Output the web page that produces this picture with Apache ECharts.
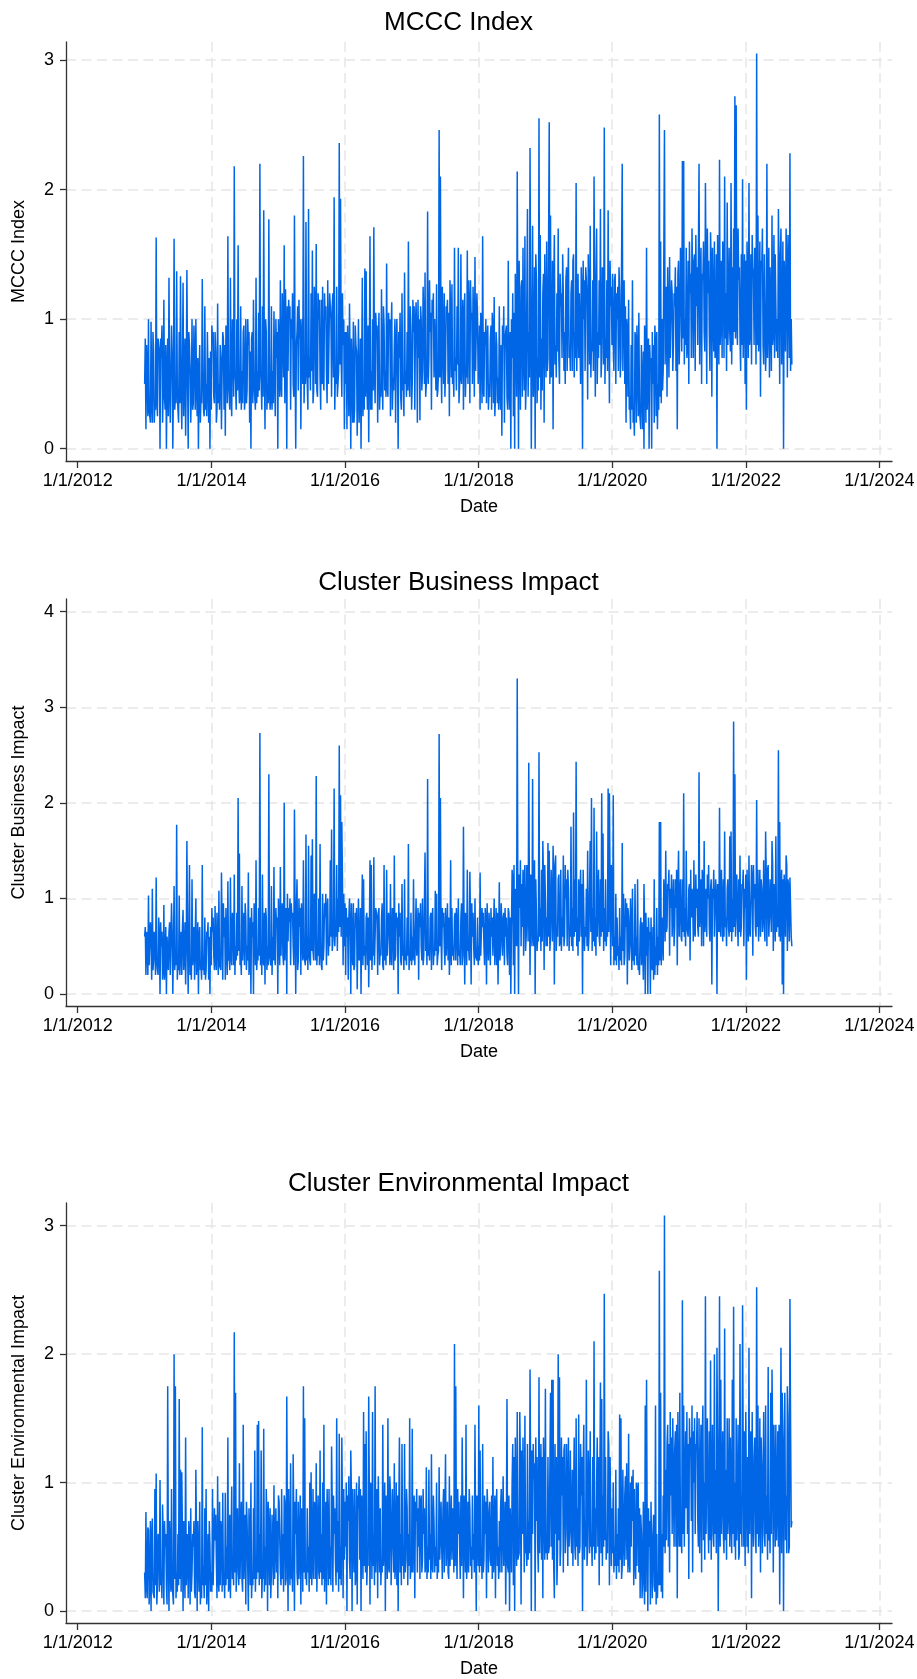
<!DOCTYPE html>
<html>
<head>
<meta charset="utf-8">
<script src="https://cdn.jsdelivr.net/npm/echarts@6/dist/echarts.min.js"></script>
<style>
html,body{margin:0;padding:0;background:#fff;}
#chart{width:917px;height:1679px;}
</style>
</head>
<body>
<div id="chart"></div>
<script>
// Observations read off the picture: one at the start of each week from 1/1/2013,
// and one in the middle of each week (3.5 days later).
const startDate = Date.UTC(2013, 0, 1);
const stepDays = 7;
const midOffsetDays = 3.5;

const mcccIndex = [
// 2013
0.5,0.15,0.62,1.0,0.3,0.98,0.2,0.75,0.35,1.63,0.25,0.8,0.0,0.7,0.2,1.15,0.3,0.0,0.85,1.32,0.2,0.95,0.0,1.62,0.4,1.37,0.3,0.9,1.33,0.15,1.28,0.5,0.1,1.38,0.0,0.8,0.2,1.0,0.35,0.7,1.0,0.25,0.0,0.8,0.4,1.31,0.3,1.1,0.5,0.9,0.2,0.0,
// 2014
0.3,0.85,0.4,0.9,0.2,1.12,0.5,0.8,0.15,0.9,0.3,0.1,0.85,1.64,0.4,1.32,0.25,0.95,2.18,0.5,1.0,1.57,0.35,1.1,0.6,0.9,0.3,1.0,0.45,0.8,0.2,0.0,0.9,1.15,0.4,1.32,0.6,1.05,2.2,0.5,1.1,1.84,0.15,0.9,0.5,1.77,0.3,1.1,0.6,1.06,0.25,0.7,
// 2015
0.0,0.8,1.3,0.4,0.9,1.57,1.23,0.0,0.6,1.0,0.3,0.85,0.5,1.8,0.0,0.9,0.45,0.85,0.15,1.0,2.26,0.6,1.75,0.5,1.85,0.7,1.2,1.53,0.45,1.1,1.58,0.4,1.0,0.55,1.15,1.25,0.45,1.0,0.6,1.3,0.5,1.1,0.4,1.2,1.94,0.6,1.25,0.5,2.36,1.93,0.4,0.8,0.15,
// 2016
0.5,0.15,0.7,1.12,0.0,0.6,0.98,0.3,0.8,0.1,1.0,0.4,0.0,1.32,0.5,1.39,1.37,0.3,0.05,1.64,0.6,1.0,1.71,0.35,0.9,0.2,1.05,0.5,1.23,0.3,0.95,0.6,1.43,0.4,0.9,0.25,1.13,0.55,0.8,0.2,1.0,0.0,0.7,0.4,1.2,0.5,1.36,0.6,0.9,1.6,0.4,0.9,
// 2017
0.5,0.9,0.3,1.13,0.2,0.7,0.22,1.0,0.6,0.95,1.36,0.5,1.83,0.7,0.9,0.3,1.05,0.55,1.0,1.27,0.45,2.46,2.1,0.35,0.9,1.2,0.6,1.05,0.5,0.25,1.0,1.27,0.6,1.55,0.7,1.1,1.55,0.5,1.5,0.8,0.3,1.2,0.6,1.53,1.3,0.35,1.0,0.5,0.9,1.48,0.6,1.0,
// 2018
0.7,0.3,0.9,1.64,0.4,0.8,0.35,0.95,0.5,0.85,0.3,0.9,1.17,0.4,0.8,0.55,1.1,0.3,0.1,0.8,0.2,0.9,0.4,1.45,0.3,0.0,0.7,0.25,0.0,1.0,2.14,0.0,0.8,1.25,0.4,0.7,1.64,0.5,1.85,0.9,2.32,0.0,1.72,0.6,0.0,1.3,0.7,2.55,1.65,0.85,1.2,0.2,1.0,
// 2019
1.6,0.7,2.52,1.8,0.6,0.15,1.65,0.8,1.2,1.7,0.5,1.1,0.7,1.18,0.9,1.3,0.6,1.55,0.8,1.2,0.6,1.5,0.9,2.05,1.0,0.7,1.2,1.4,0.0,1.0,0.6,1.3,0.38,1.1,1.72,0.8,1.3,2.1,0.4,1.7,0.9,1.3,1.85,0.7,1.2,2.48,0.85,1.3,1.84,0.35,1.1,0.8,
// 2020
0.8,1.3,0.5,1.0,0.6,1.2,0.7,2.2,1.25,0.5,0.2,0.9,1.15,0.4,0.8,1.3,0.3,0.9,0.2,0.7,1.05,0.3,0.8,0.15,0.0,0.7,1.55,0.3,0.0,0.6,0.0,0.5,0.2,0.8,0.9,0.5,2.58,1.6,1.0,0.6,2.46,1.1,0.4,1.0,1.48,0.7,1.2,0.8,1.1,0.6,0.15,1.45,
// 2021
0.9,1.4,2.22,2.22,1.0,1.55,0.8,0.5,1.2,0.7,1.3,1.45,0.6,1.1,0.8,2.2,1.2,0.5,1.3,0.9,2.05,0.5,1.2,0.9,1.67,0.4,1.1,1.6,0.8,0.0,1.3,2.23,1.0,0.7,1.5,2.1,1.2,1.9,1.0,0.9,2.05,1.4,1.7,2.72,2.65,0.8,1.3,0.85,1.5,2.08,1.1,0.5,
// 2022
0.3,1.2,2.05,0.9,0.65,1.4,0.8,1.3,3.05,1.8,0.9,0.4,1.4,0.8,1.5,0.6,2.2,1.0,0.55,1.4,1.8,0.9,0.7,1.5,1.0,1.85,0.5,1.7,1.0,0.0,1.3,1.7,0.55,1.2,2.28,1.0
];
const mcccIndexMid = [
// 2013
0.85,0.8,0.25,0.3,0.2,0.35,0.9,0.2,0.3,0.4,0.85,0.75,0.85,0.95,0.45,0.4,0.8,0.6,0.25,0.5,0.6,0.7,0.5,0.3,0.35,0.45,0.2,0.35,0.5,0.6,0.25,0.85,0.55,0.6,0.9,0.6,0.45,0.3,0.95,0.3,0.5,0.7,0.55,0.2,0.35,0.6,0.25,0.3,0.25,0.55,0.7,0.75,
// 2014
0.95,0.9,0.35,0.75,0.3,0.35,0.3,0.7,0.6,0.85,0.8,0.95,0.35,0.5,0.3,0.45,1.0,0.4,0.6,0.3,0.45,0.55,0.4,0.3,0.35,0.95,0.4,0.35,1.0,0.9,0.75,0.85,0.35,0.5,0.3,0.35,0.4,0.45,0.6,0.3,0.4,0.7,1.0,0.3,0.35,0.45,0.4,0.3,0.35,0.6,1.0,0.9,
// 2015
1.0,0.4,0.5,1.2,0.55,0.35,0.9,1.1,1.15,1.1,1.0,1.2,0.4,0.7,0.8,1.1,1.15,1.0,0.9,0.5,0.35,0.5,0.6,0.3,0.55,0.45,0.6,0.35,1.25,0.5,0.45,1.2,1.15,0.3,0.5,0.55,1.2,1.1,0.35,0.5,1.2,1.0,1.1,0.55,0.3,0.5,0.4,0.6,0.65,0.7,1.2,1.0,0.9,
// 2016
0.9,0.95,0.25,0.6,0.85,0.2,0.2,0.95,0.75,0.5,0.2,0.85,0.6,0.25,0.3,0.4,0.55,0.95,0.7,0.3,0.3,0.45,0.6,1.05,0.95,0.8,0.3,0.4,0.55,1.1,0.45,0.4,0.5,1.05,1.0,0.9,0.3,0.45,1.0,0.8,0.6,0.9,1.05,0.3,0.45,0.25,0.5,0.4,0.45,0.55,1.1,0.3,
// 2017
1.15,1.1,0.95,0.9,1.15,1.0,1.1,0.45,1.25,0.5,0.4,0.6,0.5,1.3,1.05,1.15,1.2,1.0,0.45,0.4,0.6,0.55,0.7,1.25,0.5,0.4,1.1,1.15,1.05,1.3,0.55,0.5,0.4,0.6,0.45,0.65,0.35,0.55,0.5,1.15,1.0,0.4,0.55,0.5,1.1,1.3,1.05,1.25,0.4,0.6,1.2,0.5,
// 2018
0.95,1.05,0.35,0.45,0.9,1.0,0.85,0.3,0.4,0.95,1.05,0.35,0.25,0.9,0.35,0.3,0.45,0.8,0.95,1.1,0.85,0.95,0.3,0.45,0.9,1.0,1.2,1.05,1.35,0.4,0.9,1.45,0.3,1.3,1.55,0.45,0.3,0.5,0.4,0.55,1.1,0.9,0.4,1.4,1.5,0.35,0.45,0.55,0.3,0.45,1.35,1.5,0.55,
// 2019
0.6,0.7,0.5,0.55,1.45,1.25,0.65,0.55,0.75,0.7,1.35,1.2,1.5,0.6,0.5,1.4,1.25,0.7,0.6,1.3,1.45,0.55,0.7,0.6,1.35,1.2,0.5,1.2,1.45,1.3,1.4,1.15,1.5,0.65,0.55,0.75,0.6,1.1,1.3,0.5,0.7,0.8,0.55,1.4,0.65,0.5,0.7,0.6,1.0,1.45,1.25,1.35,
// 2020
0.6,1.35,1.2,1.25,1.4,0.55,0.7,0.6,1.3,1.1,1.0,0.4,0.3,0.15,0.3,0.2,0.1,0.85,0.95,0.25,0.3,0.15,0.8,0.75,0.95,0.2,0.3,0.85,0.8,0.7,0.9,0.8,0.95,0.25,0.15,0.3,0.4,0.35,0.45,0.6,0.65,1.25,1.4,0.55,0.7,1.3,0.6,1.2,1.4,1.25,1.35,0.65,
// 2021
1.55,0.75,0.85,0.65,0.8,0.7,1.45,1.6,1.35,1.7,0.7,1.5,1.65,1.4,0.8,0.65,1.55,1.35,1.6,0.75,1.3,1.7,1.45,0.6,1.4,1.55,0.75,0.7,1.5,1.65,0.65,0.8,1.45,1.6,0.7,0.85,0.6,0.8,1.55,0.75,0.65,0.8,0.9,0.85,1.0,1.7,1.4,0.6,0.8,0.7,1.5,1.45,
// 2022
1.6,0.7,0.8,1.5,1.65,1.35,1.55,0.65,0.8,0.75,1.6,1.45,1.7,0.65,1.5,0.8,0.7,1.55,1.4,0.6,0.8,1.65,1.5,0.75,0.7,1.3,1.5,0.65,1.6,1.45,0.75,1.4,1.65,0.7,0.6,0.65
];

const businessImpact = [
// 2013
0.6,0.2,0.55,1.03,0.3,0.6,1.1,0.35,0.5,1.22,0.25,0.8,0.0,0.5,0.15,0.93,0.3,0.0,0.6,0.65,0.2,0.95,0.0,1.13,0.4,1.77,0.3,1.03,0.5,0.2,0.88,0.4,0.1,1.6,0.0,1.35,0.3,1.2,0.45,0.15,1.0,0.35,0.0,0.7,0.3,1.35,0.4,0.8,0.25,0.6,0.15,0.0,
// 2014
0.3,0.65,0.4,0.92,0.25,0.55,1.08,0.3,1.27,0.15,0.6,0.15,0.5,1.18,0.4,1.22,0.3,0.75,1.25,0.5,0.85,2.05,1.47,0.4,1.13,0.6,0.3,0.8,0.5,1.27,0.35,0.0,0.6,0.0,0.8,1.4,0.4,0.9,2.73,0.5,1.25,0.3,0.1,0.8,0.5,2.3,0.4,1.13,0.6,1.33,0.3,0.7,
// 2015
0.0,0.6,1.33,0.8,0.4,2.0,0.85,0.0,0.55,0.75,0.3,0.8,0.5,1.93,0.0,1.2,0.35,0.7,0.2,0.6,1.4,0.4,1.67,0.6,1.55,0.4,1.45,1.62,0.35,0.9,2.28,0.5,1.0,1.57,0.3,1.05,0.5,0.8,0.3,1.0,0.6,1.4,1.72,0.45,2.15,0.7,1.35,1.0,2.6,2.08,1.8,0.3,0.5,
// 2016
0.2,0.6,0.15,1.0,0.0,0.5,0.95,0.3,0.7,0.05,1.0,0.4,0.0,1.25,1.2,0.5,0.8,0.3,0.07,1.4,1.35,0.5,1.43,0.3,0.85,0.2,0.9,0.45,0.8,0.3,1.35,0.5,1.3,0.4,0.75,1.15,0.3,0.8,1.45,0.4,0.7,0.0,0.6,0.35,1.15,0.5,1.2,0.45,0.8,1.57,0.4,0.85,
// 2017
0.6,1.2,0.3,1.0,0.5,0.15,0.7,0.5,1.0,0.4,1.48,0.6,2.25,0.5,0.8,0.25,0.9,0.45,1.08,1.05,0.4,2.72,2.05,0.25,0.7,0.5,0.9,0.6,0.35,0.2,1.4,0.9,0.5,0.8,0.35,0.7,1.0,0.45,0.8,0.3,1.75,0.1,0.7,1.3,0.5,1.28,0.1,0.6,0.5,1.0,0.4,0.8,
// 2018
0.5,1.27,0.4,0.7,0.5,0.9,0.1,0.6,0.85,0.3,0.6,0.4,1.0,0.5,0.3,0.1,1.17,0.5,0.7,0.8,0.3,0.6,0.4,0.9,0.2,0.0,1.3,0.3,0.0,0.6,3.3,0.0,0.9,0.5,0.7,0.4,1.35,0.6,0.9,2.42,0.2,1.0,2.25,0.5,0.0,1.2,0.6,2.53,0.9,1.3,1.6,0.25,1.0,
// 2019
0.8,1.58,1.5,0.6,1.0,1.55,0.1,1.45,0.7,1.2,0.5,1.3,0.8,1.45,0.6,1.0,0.5,1.1,0.7,1.75,0.9,1.9,1.2,2.43,0.8,1.2,1.0,0.6,0.0,1.3,0.7,1.1,1.5,0.6,1.6,2.05,0.9,1.95,0.8,1.7,1.0,0.6,1.2,2.1,1.68,0.9,1.2,0.7,2.15,2.1,0.3,1.0,
// 2020
2.08,0.6,1.05,0.8,0.5,0.9,0.6,1.58,1.05,0.4,0.7,0.1,0.8,0.5,0.7,1.1,0.4,1.15,0.6,1.2,0.3,0.7,0.3,0.5,1.15,0.0,0.4,0.0,0.6,0.0,0.3,0.7,1.2,0.5,0.9,0.6,1.8,1.8,0.8,0.35,1.0,1.5,0.7,1.1,0.4,0.9,0.6,1.2,0.7,0.9,0.3,1.5,
// 2021
1.0,0.6,1.2,2.1,0.9,1.5,0.7,1.1,0.35,0.8,1.0,1.4,0.6,0.9,0.7,2.32,0.9,0.5,1.2,1.6,0.8,0.6,1.0,0.7,1.1,0.1,1.0,0.6,1.2,0.0,0.9,1.95,0.6,0.9,1.2,1.7,0.8,1.1,0.7,1.65,1.7,1.0,2.85,2.3,0.9,0.8,1.2,1.45,0.7,1.1,0.5,0.9,
// 2022
0.15,0.8,1.45,0.6,1.35,0.4,1.0,0.7,2.03,1.3,0.9,0.6,1.1,0.8,0.7,1.7,0.5,1.35,0.8,0.9,1.6,0.45,1.0,1.65,0.8,2.55,1.8,0.9,0.1,0.0,1.0,1.45,0.45,1.1,1.22,0.6
];
const businessImpactMid = [
// 2013
0.7,0.65,0.2,0.3,0.75,0.15,0.25,0.65,0.2,0.35,0.2,0.6,0.75,0.65,0.25,0.15,0.7,0.6,0.25,0.75,0.2,0.6,0.5,0.25,0.3,0.15,0.25,0.2,0.65,0.7,0.25,0.75,0.5,0.55,0.6,0.2,0.15,0.3,0.7,0.6,0.2,0.75,0.6,0.25,0.15,0.25,0.2,0.15,0.65,0.75,0.6,0.7,
// 2014
0.9,0.8,0.25,0.35,0.85,0.2,0.3,0.25,0.7,0.95,0.8,0.9,0.2,0.35,0.25,0.4,0.85,0.3,0.2,0.35,0.4,0.45,0.3,0.2,0.35,0.85,0.95,0.25,0.35,0.2,0.8,0.9,0.75,0.95,0.3,0.25,0.35,0.4,0.3,0.2,0.35,0.85,0.9,0.25,0.3,0.4,0.3,0.2,0.35,0.4,0.9,0.8,
// 2015
1.0,0.3,0.4,0.95,0.3,0.35,0.9,1.05,0.9,1.0,0.95,0.85,0.3,0.8,0.9,0.25,1.0,0.9,0.95,0.35,0.4,0.3,0.35,0.25,0.4,0.3,0.45,0.45,1.05,0.35,0.3,0.4,0.3,0.45,0.25,0.35,0.95,1.05,0.9,0.4,0.5,0.6,0.45,0.65,0.5,0.6,0.45,0.65,0.7,0.6,1.2,1.05,0.95,
// 2016
0.9,0.8,0.8,0.7,0.95,0.3,0.25,0.85,0.9,0.6,0.35,0.9,0.7,0.3,0.4,0.25,0.85,0.8,0.6,0.35,0.25,0.4,0.3,0.9,0.8,0.85,0.3,0.4,0.95,0.25,0.35,0.3,0.4,0.85,0.3,0.4,0.9,0.25,0.35,0.85,0.8,0.95,0.85,0.3,0.4,0.25,0.35,0.3,0.4,0.25,0.35,0.3,
// 2017
0.35,0.45,0.3,0.4,0.9,0.85,0.95,0.35,0.3,0.4,0.45,0.3,0.4,0.35,0.85,0.8,0.3,0.4,0.45,0.3,0.45,0.5,0.6,0.9,0.85,0.3,0.4,0.95,0.8,0.5,0.3,0.4,0.35,0.85,0.9,0.3,0.4,0.3,0.95,0.4,0.7,0.85,0.3,0.45,0.35,0.8,0.95,0.85,0.3,0.4,0.35,0.3,
// 2018
0.35,0.4,0.9,0.85,0.3,0.8,0.95,0.35,0.85,0.9,0.8,0.4,0.3,0.9,0.85,0.6,0.35,0.95,0.4,0.85,0.9,0.8,0.3,0.85,0.8,0.7,1.2,1.35,1.1,0.5,0.9,1.25,1.4,1.15,1.3,1.2,0.45,1.35,0.55,1.1,1.25,0.5,0.6,1.4,1.2,0.45,0.55,0.6,0.45,0.55,1.2,1.35,0.5,
// 2019
0.5,0.6,0.45,1.3,0.55,1.2,1.35,0.45,0.6,1.25,0.55,0.45,0.6,0.5,1.35,1.2,1.3,0.45,0.6,0.5,0.45,0.6,0.65,0.5,0.4,0.55,1.3,1.15,1.3,0.45,0.6,0.5,0.45,0.6,0.65,0.45,0.55,0.5,0.4,0.6,1.3,0.5,0.6,0.65,0.45,0.55,0.5,0.6,0.65,1.15,1.35,0.5,
// 2020
0.3,0.35,0.3,0.4,0.25,0.35,0.3,0.45,0.3,1.0,0.95,0.9,0.35,1.0,0.25,0.35,0.3,0.4,0.3,0.25,0.2,0.8,0.75,0.15,0.7,0.85,0.7,0.8,0.65,0.8,0.25,0.15,0.2,0.3,0.2,0.3,0.35,0.3,0.8,1.2,0.55,0.65,1.15,1.3,1.1,1.25,0.6,0.5,1.2,1.3,1.1,0.6,
// 2021
1.2,0.55,0.65,0.6,0.5,0.7,0.6,1.15,1.3,1.1,0.55,0.65,1.25,1.1,0.6,0.7,1.2,1.3,0.5,0.65,1.1,1.25,1.35,0.55,1.2,1.1,1.3,0.6,1.0,1.15,0.65,0.7,1.3,0.55,0.6,0.7,0.5,1.2,0.6,0.65,0.55,0.65,0.7,0.6,1.25,0.5,0.65,0.6,1.15,1.3,1.1,1.25,
// 2022
1.3,0.55,0.65,0.6,1.2,1.35,1.15,0.6,0.7,0.55,1.3,1.2,0.65,1.4,0.55,1.25,1.3,0.6,1.2,0.65,1.35,1.15,0.55,0.65,0.7,0.6,0.55,1.3,1.2,1.25,0.6,1.35,1.2,0.55,1.2,0.5
];

const environmentalImpact = [
// 2013
0.3,0.77,0.1,0.63,0.2,0.0,0.72,0.15,0.95,1.07,0.2,0.55,1.02,0.3,0.83,0.05,0.5,0.2,1.75,0.0,0.4,0.95,0.2,2.0,1.75,0.3,0.6,1.65,1.1,1.08,0.0,0.4,1.35,0.2,0.1,0.6,0.8,0.3,0.5,0.15,1.1,0.0,0.4,0.85,0.2,1.43,0.35,0.8,0.95,0.2,0.0,0.5,
// 2014
0.3,0.95,0.2,0.55,0.4,1.05,0.15,0.2,0.6,0.92,0.3,0.92,0.5,1.35,0.2,0.1,0.97,0.4,2.17,1.7,0.5,0.3,1.15,0.6,0.25,1.45,0.5,0.05,0.7,0.0,0.6,1.0,0.3,0.8,1.25,0.4,1.45,1.48,0.6,1.25,0.3,1.42,0.5,0.95,0.0,0.6,0.8,0.3,0.5,0.98,0.55,0.3,
// 2015
0.1,0.85,0.3,0.95,0.6,0.9,0.2,1.67,0.0,0.5,1.15,0.4,1.22,0.0,0.6,0.3,0.85,0.45,0.05,0.7,1.75,1.5,0.3,0.8,0.5,1.0,1.08,0.4,0.25,0.8,1.15,0.5,0.3,1.25,0.6,1.0,1.45,0.4,0.05,0.7,0.95,0.5,1.28,0.15,0.6,0.4,1.5,0.7,1.38,0.5,1.35,0.1,0.4,
// 2016
0.5,0.0,0.7,0.4,1.25,0.0,0.6,0.95,0.3,0.05,0.8,0.4,0.0,0.7,1.55,1.3,1.4,0.4,1.67,0.05,0.9,1.55,0.6,1.75,0.3,0.1,0.6,0.8,0.4,1.45,0.5,0.0,0.7,1.5,0.3,0.9,0.5,0.6,1.15,0.4,0.2,0.0,1.35,0.6,1.3,0.5,1.3,0.4,0.8,0.6,1.5,0.35,
// 2017
1.42,0.3,0.1,0.7,0.3,0.5,0.25,0.9,0.4,0.6,0.3,1.12,0.5,1.1,0.6,1.22,0.3,0.7,0.5,1.0,0.4,1.12,0.6,0.5,0.8,0.3,1.22,0.5,0.3,1.05,0.6,0.4,0.7,2.08,1.75,0.25,0.6,0.5,0.9,1.35,0.1,0.7,1.45,0.4,0.3,0.8,0.5,0.9,0.6,1.45,0.0,0.8,
// 2018
1.6,1.25,0.5,1.3,0.4,0.6,0.1,0.8,0.7,0.4,0.9,1.2,0.5,0.1,0.95,0.5,0.7,0.8,0.3,1.05,0.6,0.05,1.65,0.3,0.0,0.6,1.0,0.2,0.0,0.7,1.55,0.4,1.55,0.05,0.6,0.8,1.52,0.5,1.3,0.7,1.88,0.0,0.6,1.03,0.0,0.7,0.5,1.82,0.8,0.4,0.1,0.9,1.73,
// 2019
0.6,1.2,0.5,1.7,1.8,1.8,0.1,0.6,0.2,2.0,1.82,0.5,0.9,0.3,1.3,0.6,1.0,1.35,0.7,0.6,1.1,0.9,0.5,1.5,0.8,1.53,0.5,0.9,0.0,1.45,0.7,1.8,0.5,1.0,1.4,0.6,1.2,2.1,0.8,1.0,0.5,0.2,1.78,1.65,0.9,2.47,1.2,0.6,1.4,0.2,1.2,0.8,
// 2020
1.0,0.5,1.1,0.6,0.8,1.53,1.5,0.35,0.55,0.9,0.4,0.7,1.38,0.3,0.5,0.7,0.2,0.4,1.0,0.95,0.3,0.1,0.6,0.3,0.2,1.6,1.8,0.0,0.5,0.05,0.4,0.6,0.2,1.6,0.6,0.3,2.65,1.7,0.6,0.9,3.08,1.1,1.3,0.5,0.3,0.9,0.6,1.0,1.25,0.5,0.1,0.8,
// 2021
1.7,0.6,2.42,1.6,1.0,0.8,0.6,0.25,1.2,0.7,0.3,1.0,0.6,1.25,0.7,1.5,1.0,0.3,1.6,1.0,2.45,1.2,0.7,1.4,1.95,0.9,0.6,2.0,1.1,2.05,0.0,2.45,1.8,0.9,0.6,2.2,1.1,1.5,0.8,0.5,0.75,1.8,2.37,1.0,1.5,0.8,0.4,2.08,0.9,2.38,0.5,0.35,
// 2022
0.9,1.2,2.05,1.3,0.1,0.8,1.2,0.6,2.52,1.6,0.7,0.3,1.1,1.0,0.6,1.6,0.9,1.9,0.7,1.7,1.88,0.3,1.0,1.45,0.8,0.5,0.05,2.05,1.7,0.0,1.7,0.9,1.75,0.45,2.43,0.65
];
const environmentalImpactMid = [
// 2013
0.1,0.2,0.65,0.05,0.7,0.55,0.15,0.1,0.2,0.05,0.6,0.15,0.2,0.1,0.55,0.7,0.6,0.05,0.5,0.7,0.15,0.2,0.05,0.25,0.1,0.15,0.2,0.25,0.15,0.6,0.7,0.1,0.2,0.6,0.7,0.05,0.15,0.6,0.7,0.1,0.55,0.7,0.15,0.05,0.1,0.2,0.1,0.2,0.05,0.6,0.7,0.15,
// 2014
0.15,0.2,0.8,0.75,0.1,0.25,0.85,0.7,0.15,0.2,0.1,0.2,0.25,0.15,0.75,0.1,0.25,0.2,0.3,0.15,0.8,0.2,0.25,0.85,0.15,0.25,0.75,0.85,0.7,0.8,0.2,0.1,0.2,0.25,0.15,0.25,0.3,0.2,0.25,0.1,0.25,0.15,0.2,0.7,0.85,0.2,0.1,0.75,0.2,0.25,0.8,0.7,
// 2015
0.9,0.85,0.2,0.25,0.15,0.85,0.25,0.6,0.95,0.2,0.25,0.15,0.7,0.85,0.95,0.2,0.25,0.9,0.8,0.15,0.3,0.25,0.2,0.3,0.15,0.25,0.2,0.95,0.85,0.25,0.15,0.9,0.25,0.3,0.2,0.25,0.15,0.85,0.95,0.2,0.25,0.2,0.85,0.9,0.8,0.2,0.3,0.15,0.25,0.2,0.8,0.95,0.85,
// 2016
1.0,0.9,1.05,0.25,0.9,0.95,0.3,0.2,1.0,0.9,1.05,0.95,0.9,0.25,0.35,0.3,0.2,0.35,0.9,1.0,0.25,0.35,0.2,0.3,0.95,1.05,0.3,0.2,0.3,0.35,1.0,0.9,0.25,0.35,1.05,0.2,0.95,0.3,0.25,1.0,0.9,0.8,0.3,0.2,0.35,0.25,0.3,0.95,0.2,0.35,0.25,0.3,
// 2017
0.3,0.9,0.85,0.95,0.8,0.9,0.85,0.3,0.95,0.8,0.35,0.25,0.3,0.4,0.25,0.35,0.9,0.3,0.35,0.25,0.3,0.4,0.85,0.25,0.95,0.3,0.35,0.85,0.25,0.35,0.9,0.8,0.3,0.35,0.5,0.95,0.85,0.25,0.35,0.7,0.9,0.3,0.25,0.85,0.95,0.35,0.25,0.4,0.3,0.6,0.9,0.35,
// 2018
0.3,0.35,0.25,0.3,0.9,0.85,0.95,0.3,0.85,0.35,0.25,0.3,0.9,0.8,0.35,0.25,0.3,0.95,0.3,0.35,0.85,0.6,0.35,0.9,0.8,0.3,1.3,1.2,1.35,0.35,0.4,0.45,1.1,1.25,1.35,0.3,0.45,0.35,0.4,0.45,1.0,1.25,1.3,1.15,1.35,1.2,0.3,0.45,1.3,1.2,1.35,0.4,0.45,
// 2019
0.4,0.45,0.5,0.5,0.4,0.35,1.3,1.2,0.45,0.55,0.35,1.35,1.2,1.25,0.45,1.3,0.35,0.5,1.25,0.45,0.35,1.35,0.4,0.5,0.35,0.45,1.3,1.2,1.1,0.4,0.5,0.35,1.25,0.45,0.5,0.35,0.5,0.4,0.45,1.35,1.2,0.9,0.45,0.35,0.5,0.55,0.4,0.45,1.3,1.2,0.35,0.45,
// 2020
0.3,0.35,0.25,0.35,0.3,0.4,0.25,1.1,0.35,1.05,1.15,0.3,0.4,1.0,1.05,1.1,0.95,0.25,0.35,1.0,0.8,0.75,0.1,0.85,0.05,0.15,0.6,0.8,0.7,0.85,0.1,0.75,0.15,0.05,0.1,0.2,0.2,0.15,0.1,0.5,0.45,0.55,1.45,1.3,1.55,1.35,1.5,0.5,1.4,1.45,1.55,0.5,
// 2021
0.5,0.45,0.6,0.5,1.4,1.55,1.3,1.5,1.35,1.6,1.4,1.5,1.3,1.55,0.5,0.45,1.45,1.35,0.55,0.4,0.6,1.5,0.45,0.55,0.4,1.45,0.5,0.6,0.45,1.2,1.0,0.5,0.6,1.4,0.45,0.55,0.4,0.6,1.5,1.35,0.45,0.6,0.5,0.4,0.55,1.45,0.45,0.6,0.5,1.2,1.4,1.55,
// 2022
0.5,0.45,0.6,1.4,1.55,0.5,1.35,0.45,0.6,0.5,1.5,1.35,0.45,1.55,0.5,0.6,0.4,0.55,0.45,0.6,1.3,1.45,0.5,0.55,1.4,1.45,1.0,0.45,1.2,1.3,0.55,0.45,1.5,0.5,1.45,0.7
];

const xTickYears = [2012, 2014, 2016, 2018, 2020, 2022, 2024];
const xGridYears = [2014, 2016, 2018, 2020, 2022, 2024];
const yTicksMccc = [0, 1, 2, 3];
const yTicksBusiness = [0, 1, 2, 3, 4];
const yTicksEnvironmental = [0, 1, 2, 3];

const panelTitles = ['MCCC Index', 'Cluster Business Impact', 'Cluster Environmental Impact'];
const xAxisName = 'Date';

const DAY = 86400000;
function buildSeries(weekVals, midVals) {
  const out = [];
  weekVals.forEach((v, i) => {
    const t = startDate + i * stepDays * DAY;
    out.push([t, v]);
    if (midVals[i] !== undefined) out.push([t + midOffsetDays * DAY, midVals[i]]);
  });
  return out;
}

const xMin = Date.UTC(2011, 9, 29);
const xMax = Date.UTC(2024, 2, 10);
const xTicks = xTickYears.map(y => Date.UTC(y, 0, 1));
const xGrid = xGridYears.map(y => Date.UTC(y, 0, 1));

const FONT = '"Liberation Sans", Arial, Helvetica, sans-serif';
const lineColor = '#0066e6';
const axisColor = '#333333';
const gridColor = '#e6e6e6';

const panels = [
  { top: 42, height: 419, yMin: -0.095, yMax: 3.139, ticks: yTicksMccc, data: buildSeries(mcccIndex, mcccIndexMid), titleTop: 10 },
  { top: 599, height: 407, yMin: -0.1256, yMax: 4.133, ticks: yTicksBusiness, data: buildSeries(businessImpact, businessImpactMid), titleTop: 570 },
  { top: 1203, height: 420, yMin: -0.0935, yMax: 3.177, ticks: yTicksEnvironmental, data: buildSeries(environmentalImpact, environmentalImpactMid), titleTop: 1171 }
];

const fmtDate = v => { const d = new Date(Math.round(v)); return (d.getUTCMonth() + 1) + '/' + d.getUTCDate() + '/' + d.getUTCFullYear(); };

const option = {
  animation: false,
  backgroundColor: '#ffffff',
  title: panels.map((p, i) => ({
    text: panelTitles[i],
    left: 'center',
    top: p.titleTop,
    padding: [0, 0, 0, 41],
    textStyle: { fontFamily: FONT, fontSize: 26, fontWeight: 'normal', color: '#000' }
  })),
  grid: panels.map(p => ({ left: 66, right: 25, top: p.top, height: p.height, containLabel: false, outerBoundsMode: 'none' })),
  xAxis: [],
  yAxis: [],
  series: []
};

panels.forEach((p, i) => {
  option.xAxis.push({
    type: 'value', gridIndex: i, min: xMin, max: xMax,
    name: xAxisName, nameLocation: 'middle', nameGap: 37,
    nameTextStyle: { fontFamily: FONT, fontSize: 18, color: '#000' },
    axisLine: { show: true, onZero: false, lineStyle: { color: axisColor, width: 1.3 } },
    axisTick: { show: true, length: 7, customValues: xTicks, lineStyle: { color: axisColor, width: 1.3 } },
    axisLabel: {
      show: true, customValues: xTicks, margin: 11,
      fontFamily: FONT, fontSize: 18, color: '#000',
      formatter: fmtDate
    },
    splitLine: { show: false }
  });
  option.xAxis.push({
    type: 'value', gridIndex: i, min: xMin, max: xMax, position: 'bottom',
    axisLine: { show: false, onZero: false },
    axisTick: { show: false, customValues: xGrid },
    axisLabel: { show: false, customValues: xGrid },
    splitLine: { show: true, lineStyle: { color: gridColor, width: 1.5, type: [10, 5.5] } }
  });
  option.yAxis.push({
    type: 'value', gridIndex: i, min: p.yMin, max: p.yMax,
    name: panelTitles[i], nameLocation: 'middle', nameGap: 38,
    nameTextStyle: { fontFamily: FONT, fontSize: 18, color: '#000' },
    axisLine: { show: true, onZero: false, lineStyle: { color: axisColor, width: 1.3 } },
    axisTick: { show: true, length: 6, customValues: p.ticks, lineStyle: { color: axisColor, width: 1.3 } },
    axisLabel: { show: true, customValues: p.ticks, margin: 12, fontFamily: FONT, fontSize: 18, color: '#000' },
    splitLine: { show: true, lineStyle: { color: gridColor, width: 1.5, type: [10, 5.5] } }
  });
  option.series.push({
    type: 'line', xAxisIndex: i * 2, yAxisIndex: i,
    data: p.data,
    showSymbol: false, symbol: 'none',
    lineStyle: { color: lineColor, width: 1.5 },
    itemStyle: { color: lineColor },
    silent: true
  });
});

const chart = echarts.init(document.getElementById('chart'), null, { renderer: 'canvas', width: 917, height: 1679 });
chart.setOption(option);
</script>
</body>
</html>
